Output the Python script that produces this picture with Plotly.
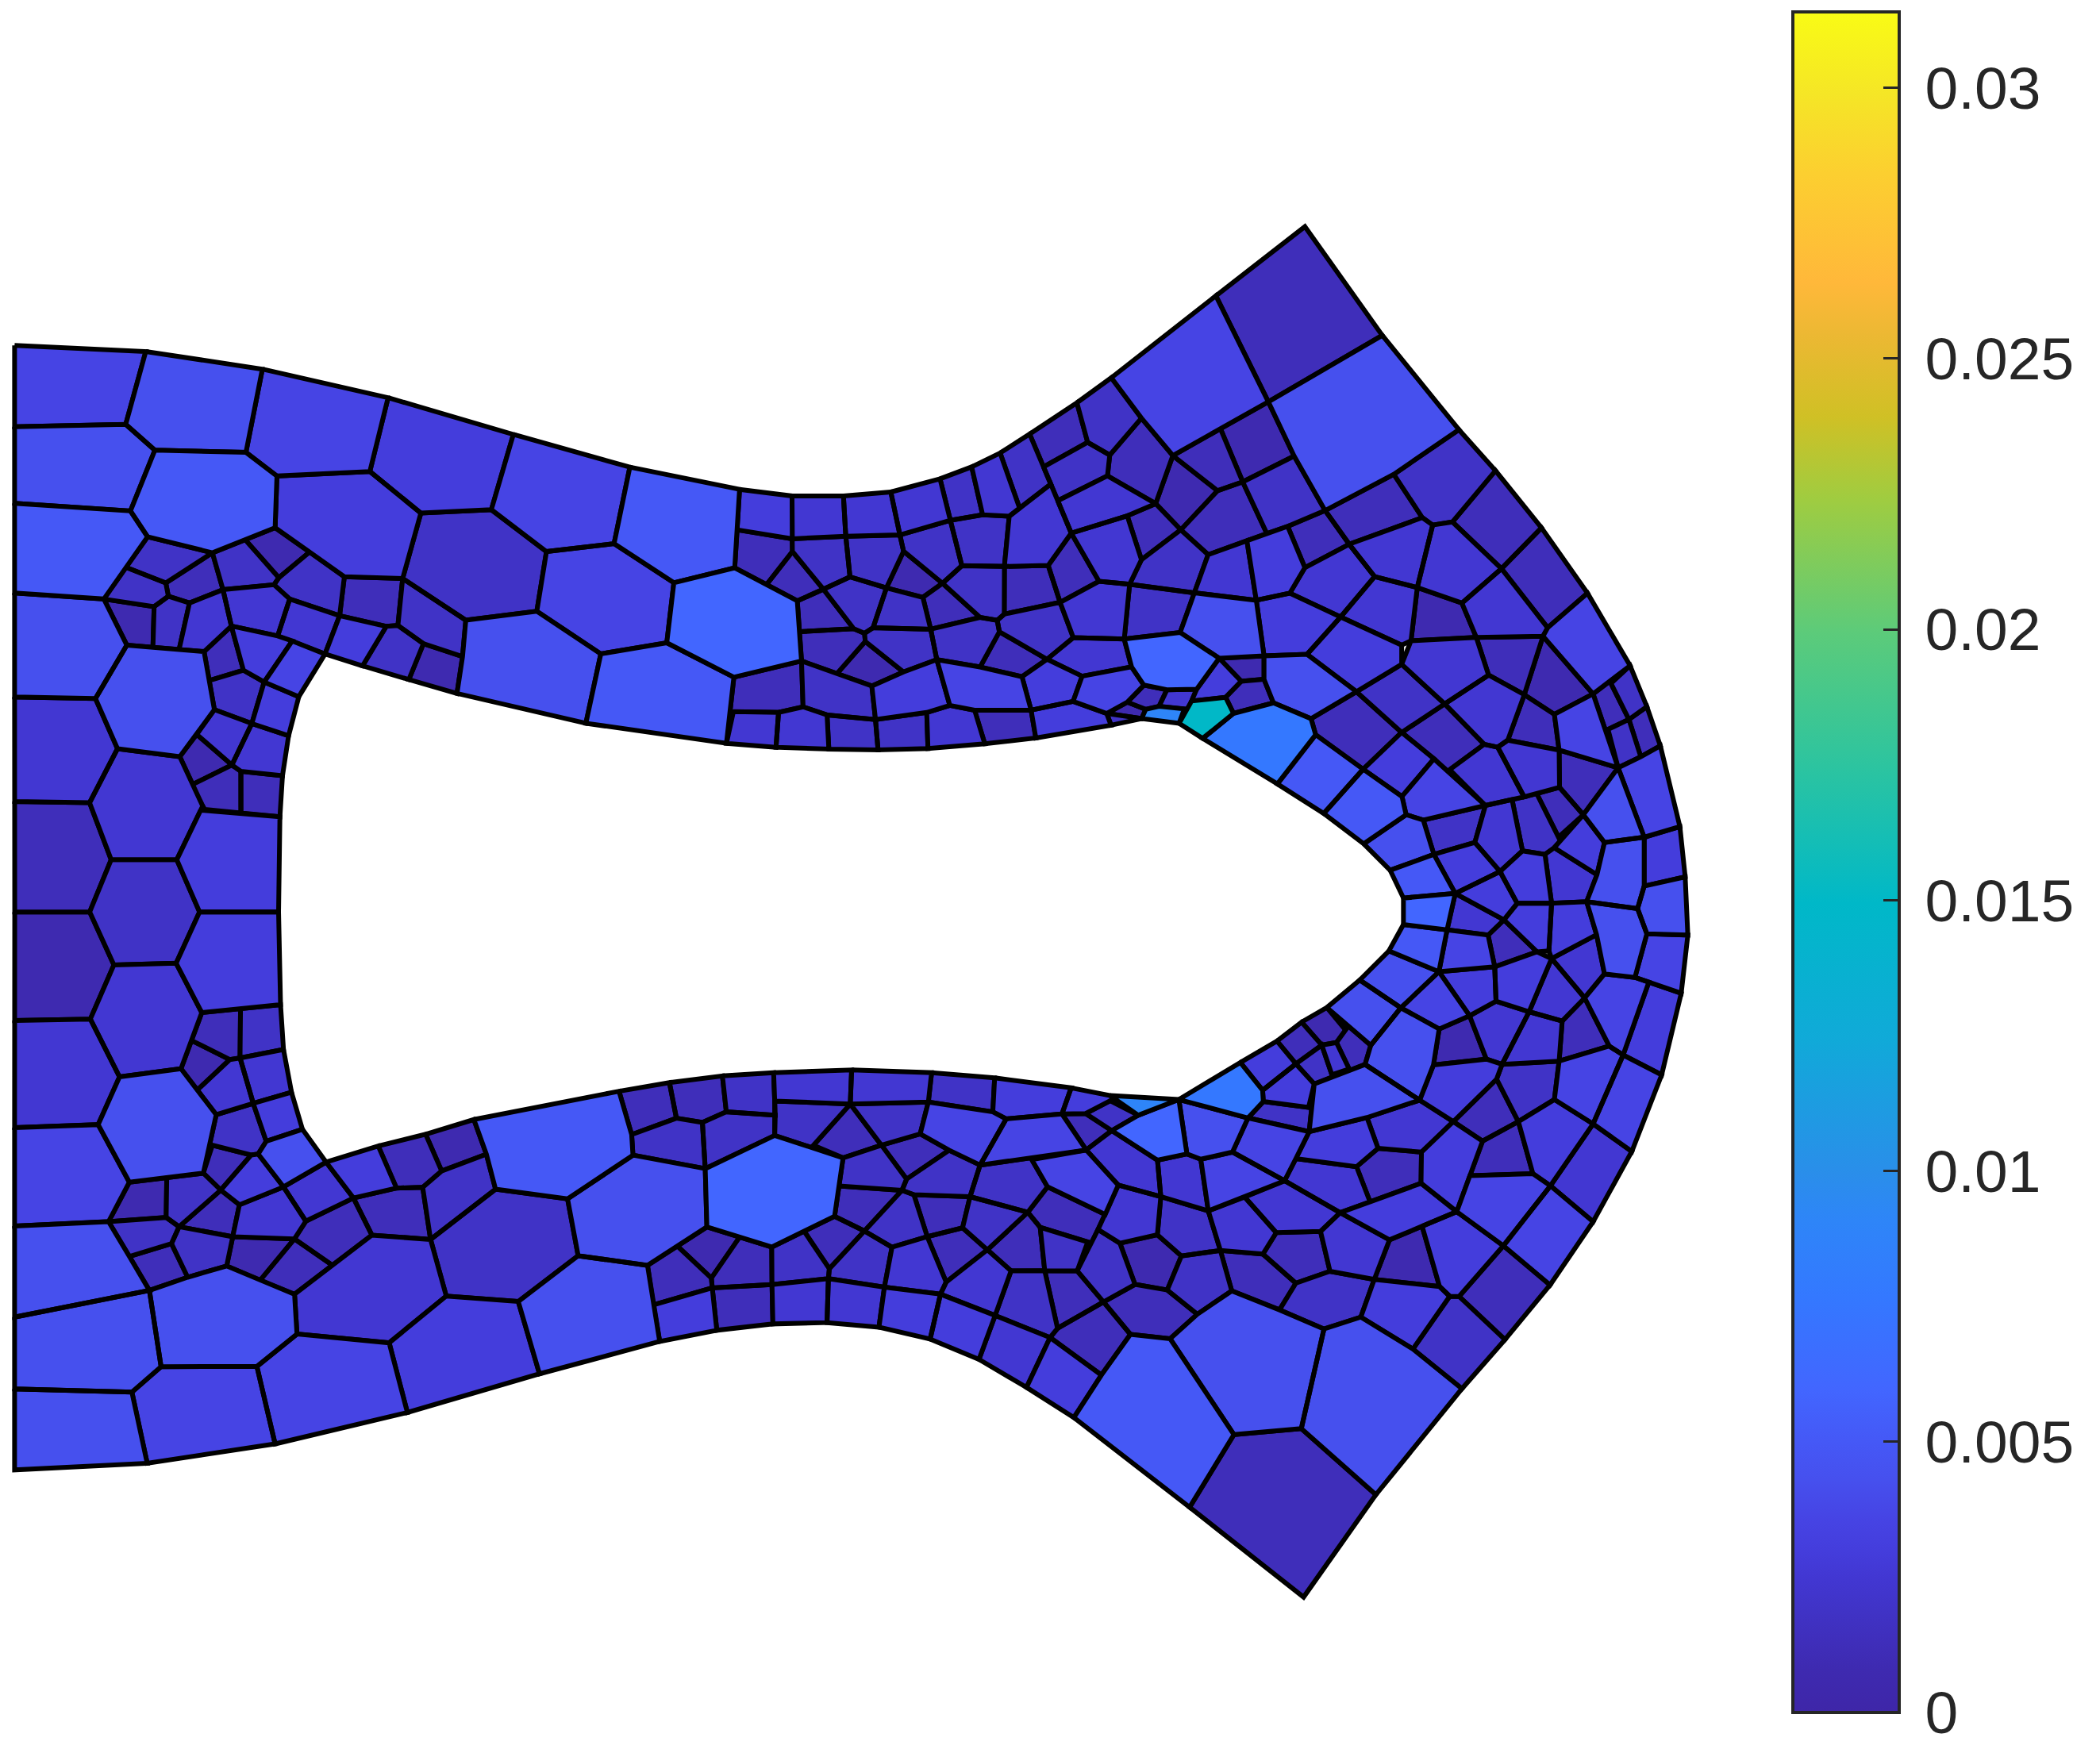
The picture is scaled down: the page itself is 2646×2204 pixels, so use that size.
import plotly.graph_objects as go
from plotly.colors import sample_colorscale

# cell value levels read against the colour bar
d, D, m, M, N, l, L, c, b, B, C, Y = (0.0008, 0.0013, 0.0019, 0.0025, 0.003, 0.0036,
                                     0.0043, 0.005, 0.006, 0.0077, 0.0091, 0.015)

value_max = 0.0314
tick_values = [0, 0.005, 0.01, 0.015, 0.02, 0.025, 0.03]
tick_labels = ["0", "0.005", "0.01", "0.015", "0.02", "0.025", "0.03"]

scale_stops = [0, .025, .041, .06, .079, .095, .114, .137, .159, .19, .244, .289, .317, .397,
               .476, .556, .635, .714, .762, .81, .841, .905, .952, 1]
scale_colors = ["#3e26a8", "#3e2ab0", "#3f2eba", "#4033c6", "#4237d2", "#443ddc", "#4644e4",
                "#4650ee", "#4558f6", "#4266ff", "#3478ff", "#2e85f8", "#2a8eea", "#10aad8",
                "#00b8c8", "#2cc4a0", "#5ccb7a", "#a0cc40", "#d0c025", "#ecb833", "#ffb83a",
                "#fccf30", "#f5e626", "#f9fb15"]

cells_overview = [
    (l, 383,324, 470,349, 459,406, 408,412, 366,380),
    (L, 348,463, 401,456, 448,489, 437,541, 341,518, 345,490),
    (l, 408,412, 459,406, 503,435, 498,480, 449,488, 401,457),
    (D, 143,587, 172,572, 180,576, 180,606, 153,604),
    (D, 180,576, 211,579, 208,610, 180,606),
    (M, 88,559, 135,566, 148,603, 132,642, 83,642, 67,600),
    (D, 11,599, 67,599, 83,642, 67,681, 11,681),
    (N, 148,605, 210,610, 208,681, 149,681, 132,642),
    (m, 83,642, 132,642, 149,681, 132,719, 85,720, 67,681),
    (d, 11,681, 67,681, 85,720, 68,761, 11,762),
    (N, 132,719, 149,681, 208,681, 210,750, 150,757),
    (c, 354,835, 462,815, 471,847, 472,862, 424,895, 370,888, 363,861),
    (m, 322,926, 370,888, 423,895, 432,938, 387,972, 333,968),
    (L, 387,972, 432,938, 482,944, 487,975, 492,1002, 403,1026),
]

cells_upper_left = [
    (l, 40,40, 400,60, 345,300, 40,308),
    (L, 400,60, 720,118, 675,392, 425,385, 345,300),
    (l, 720,118, 1065,212, 1015,455, 760,470, 675,392),
    (N, 1065,212, 1410,335, 1350,582, 1155,592, 1015,455),
    (L, 40,308, 345,300, 425,385, 358,585, 40,560),
    (c, 425,385, 675,392, 760,470, 755,640, 583,722, 405,670, 358,585),
    (N, 760,470, 1015,455, 1155,592, 1105,805, 945,800, 850,720, 755,640),
    (m, 1155,592, 1350,582, 1500,718, 1472,915, 1278,945, 1105,805),
    (c, 40,560, 358,585, 405,670, 345,770, 285,875, 40,855),
    (m, 405,670, 583,722, 455,822, 345,770),
    (m, 345,770, 455,822, 462,865, 423,900, 285,875),
    (D, 455,822, 583,725, 612,845, 520,888, 462,865),
    (m, 583,722, 672,678, 765,805, 752,828, 612,842),
    (d, 672,678, 755,640, 850,720, 765,805),
    (m, 850,720, 945,800, 932,930, 795,875, 752,828, 765,805),
    (D, 945,805, 1105,810, 1092,962, 1060,965, 932,930),
    (m, 1105,810, 1278,945, 1270,1065, 1162,1022, 1092,962),
    (d, 285,875, 423,900, 420,1030, 348,1025),
    (m, 423,900, 462,868, 520,888, 492,1035, 420,1030),
    (M, 520,888, 612,845, 635,960, 560,1048, 492,1035),
    (M, 612,845, 752,828, 795,875, 762,995, 635,960),
    (M, 795,875, 932,930, 892,1055, 802,1012, 762,995),
    (N, 932,930, 1060,965, 995,1095, 892,1055),
    (m, 1060,965, 1092,962, 1162,1022, 1122,1140, 995,1095),
    (d, 1162,1022, 1270,1065, 1255,1185, 1122,1140),
    (L, 40,855, 285,875, 348,1025, 262,1198, 40,1195),
    (L, 348,1030, 560,1048, 585,1240, 540,1320, 492,1392, 322,1368, 262,1205),
    (D, 560,1048, 635,968, 668,1108, 578,1140),
    (N, 635,968, 762,1000, 802,1012, 725,1148, 668,1108),
    (l, 802,1015, 892,1058, 820,1195, 730,1145),
    (m, 578,1145, 668,1112, 720,1150, 690,1280, 590,1238),
    (N, 725,1150, 820,1198, 792,1325, 692,1285),
    (M, 590,1240, 690,1285, 645,1420, 630,1420, 540,1320),
    (M, 692,1290, 792,1325, 775,1458, 660,1442, 645,1420),
    (d, 540,1322, 630,1422, 525,1485, 492,1392),
    (M, 40,1200, 262,1205, 322,1368, 245,1545, 40,1540),
]

cells_lower_left = [
    (M, 313,42, 480,35, 555,178, 495,348, 328,372, 247,200),
    (M, 40,205, 247,200, 328,372, 268,515, 40,525),
    (l, 40,525, 268,518, 355,690, 298,805, 40,820),
    (L, 328,375, 495,350, 590,487, 558,660, 355,685, 272,515),
    (D, 555,180, 660,168, 655,315, 630,320, 528,265),
    (m, 660,168, 768,158, 778,290, 660,315),
    (d, 528,265, 630,322, 542,412, 500,348),
    (M, 632,322, 660,318, 695,452, 595,485, 542,412),
    (M, 660,318, 778,292, 800,418, 695,448),
    (N, 695,455, 800,420, 830,530, 730,565),
    (m, 595,487, 695,455, 730,565, 710,602, 690,605, 583,575),
    (D, 583,580, 688,608, 605,712, 558,662),
    (L, 708,605, 732,568, 830,530, 895,625, 778,700),
    (N, 690,608, 708,605, 778,705, 658,755, 608,712),
    (d, 355,690, 458,678, 455,792, 298,805),
    (m, 458,678, 558,662, 605,712, 492,820, 458,795),
    (D, 605,712, 655,755, 635,850, 492,820),
    (M, 658,758, 778,705, 838,805, 808,855, 640,850),
    (M, 778,700, 895,630, 970,735, 840,805),
    (N, 895,630, 1038,580, 1088,705, 970,735),
    (D, 1038,580, 1168,545, 1212,655, 1160,703, 1088,705),
    (d, 1168,545, 1300,505, 1335,603, 1212,655),
    (m, 1160,703, 1212,655, 1335,610, 1360,710, 1183,858),
    (D, 970,735, 1088,708, 1160,705, 1180,858, 1022,845),
    (D, 840,805, 970,738, 1020,848, 912,935, 808,858),
    (d, 640,855, 808,858, 712,980, 622,938),
    (D, 808,862, 912,938, 808,1022, 718,985),
    (m, 298,808, 455,795, 490,822, 470,870, 355,908),
    (m, 492,825, 640,852, 622,938, 515,972, 472,872),
    (D, 355,912, 470,875, 515,972, 410,1010),
    (L, 40,820, 298,808, 355,912, 410,1010, 40,1090),
    (L, 410,1015, 515,975, 622,942, 712,982, 805,1025, 815,1142, 705,1238, 442,1240),
    (L, 40,1095, 410,1015, 442,1240, 362,1315, 40,1305),
    (L, 40,1310, 362,1318, 403,1530, 40,1550),
    (l, 362,1318, 442,1242, 705,1242, 755,1472, 405,1530),
    (l, 705,1240, 815,1145, 1068,1170, 1118,1378, 755,1472),
    (M, 812,1025, 912,938, 1020,848, 1180,862, 1225,1028, 1068,1168, 815,1142),
    (N, 1068,1170, 1225,1030, 1422,1045, 1480,1262, 1118,1378),
]

cells_upper_middle = [
    (c, 205,145, 505,225, 490,525, 325,582, 157,435),
    (b, 325,585, 490,530, 660,650, 670,875, 490,935, 305,808),
    (c, 125,850, 305,812, 488,940, 468,1190, 85,1110),
    (N, 505,235, 648,255, 648,415, 495,380),
    (M, 650,255, 790,255, 795,405, 650,412),
    (M, 790,255, 920,240, 945,400, 797,405),
    (M, 920,240, 1055,190, 1082,345, 945,402),
    (m, 1055,190, 1142,145, 1172,325, 1085,345),
    (M, 1142,145, 1220,95, 1270,295, 1245,330, 1172,325),
    (m, 1220,90, 1295,30, 1355,210, 1270,295),
    (D, 495,385, 650,420, 650,465, 580,585, 495,525),
    (D, 650,465, 735,605, 665,650, 580,590),
    (m, 650,420, 797,410, 808,560, 735,605, 650,465),
    (m, 797,410, 945,405, 955,465, 908,600, 808,558),
    (d, 955,465, 1062,585, 1008,635, 908,600),
    (m, 945,402, 1082,350, 1115,518, 1062,580, 955,462),
    (m, 1085,348, 1172,328, 1245,335, 1232,520, 1115,518),
    (M, 1245,330, 1355,215, 1415,395, 1352,515, 1235,520),
    (D, 1230,525, 1352,520, 1385,655, 1232,700),
    (D, 1415,395, 1490,575, 1385,655, 1352,518),
    (m, 735,610, 808,565, 908,605, 872,750, 848,770, 820,755),
    (m, 908,605, 1008,640, 1028,755, 872,755),
    (D, 665,655, 735,610, 815,755, 675,765),
    (D, 1008,640, 1062,590, 1165,712, 1030,755),
    (m, 1062,585, 1115,520, 1230,520, 1230,700, 1212,720, 1165,712),
    (D, 678,770, 820,760, 848,778, 850,805, 772,925, 680,875),
    (d, 850,805, 955,918, 868,970, 772,925),
    (m, 848,775, 870,755, 1030,765, 1045,870, 955,918, 850,805),
    (m, 1030,760, 1165,718, 1212,735, 1218,770, 1165,900, 1045,870),
    (D, 1218,770, 1345,875, 1280,935, 1165,900),
    (m, 1212,720, 1232,705, 1385,660, 1420,790, 1350,870, 1218,765),
    (D, 490,945, 670,885, 678,1050, 612,1070, 488,1068),
    (m, 680,880, 772,930, 868,975, 878,1095, 745,1078, 680,1052),
    (N, 868,975, 955,925, 1045,875, 1082,1045, 1020,1070, 878,1095),
    (l, 1050,880, 1165,905, 1280,940, 1305,1060, 1150,1062, 1082,1045),
    (N, 1280,940, 1350,875, 1445,935, 1420,1030, 1305,1062),
    (M, 488,1075, 612,1075, 605,1205, 470,1190),
    (M, 612,1075, 680,1055, 745,1085, 750,1212, 605,1205),
    (m, 745,1085, 878,1105, 885,1215, 750,1212),
    (m, 878,1105, 1018,1075, 1022,1210, 885,1215),
    (M, 1018,1075, 1082,1050, 1150,1065, 1178,1192, 1022,1210),
    (D, 1150,1068, 1305,1068, 1318,1170, 1178,1192),
    (N, 1305,1068, 1420,1035, 1510,1075, 1520,1122, 1318,1170),
]

cells_upper_right = [
    (D, 0,565, 105,490, 130,592, 28,655),
    (m, 105,490, 185,425, 255,530, 182,625, 130,592),
    (l, 185,425, 428,212, 550,485, 328,625, 255,530),
    (D, 428,212, 635,32, 815,315, 550,485),
    (L, 550,490, 815,315, 993,560, 840,675, 682,768, 610,628),
    (D, 255,530, 328,628, 288,750, 178,680, 182,625),
    (m, 28,658, 130,595, 180,628, 175,680, 60,745),
    (D, 328,628, 440,560, 490,695, 432,718),
    (d, 440,560, 550,490, 610,628, 492,695),
    (M, 60,745, 175,680, 288,752, 222,782, 92,828),
    (d, 288,752, 328,628, 432,718, 348,820),
    (D, 222,785, 288,755, 345,820, 255,898),
    (M, 92,830, 222,785, 255,898, 225,955, 157,955),
    (m, 255,898, 345,822, 410,885, 378,982, 230,968, 225,955),
    (D, 348,820, 432,720, 490,698, 545,825, 410,885),
    (m, 490,695, 610,630, 682,768, 595,810, 545,825),
    (D, 682,770, 840,678, 908,788, 738,855),
    (D, 595,812, 682,775, 738,858, 635,918),
    (M, 410,885, 500,848, 522,1002, 378,985),
    (N, 500,848, 595,812, 635,918, 600,985, 522,1002),
    (M, 738,858, 908,790, 932,808, 895,970, 797,942),
    (M, 635,920, 738,860, 797,942, 718,1045, 600,985),
    (m, 845,675, 993,560, 1078,665, 978,800, 932,808, 908,788),
    (D, 978,800, 1078,668, 1185,815, 1092,920),
    (M, 932,808, 978,800, 1092,920, 1000,1010, 895,970),
    (D, 1092,920, 1185,815, 1292,985, 1200,1075),
    (M, 1000,1010, 1092,925, 1198,1075, 1188,1095, 1035,1100),
    (l, 1200,1075, 1292,985, 1390,1172, 1305,1245, 1188,1098),
    (d, 880,1108, 900,970, 1000,1012, 1032,1100),
    (M, 718,1045, 797,942, 895,972, 880,1108, 860,1118),
    (N, 600,985, 718,1048, 640,1142, 540,1145, 522,1005),
    (m, 230,970, 378,985, 345,1085, 215,1102),
    (L, 378,985, 522,1005, 540,1145, 435,1152, 345,1085),
    (M, 65,1010, 157,955, 225,955, 230,968, 215,1102, 97,1100),
    (M, 97,1102, 215,1105, 232,1175, 117,1198, 37,1155),
    (b, 215,1108, 345,1092, 435,1152, 385,1232, 315,1232, 260,1222, 232,1175),
    (l, 117,1205, 232,1180, 260,1222, 222,1265, 175,1295, 97,1265),
    (D, 222,1268, 262,1228, 310,1238, 295,1278, 265,1283),
    (M, 318,1238, 380,1240, 355,1280, 298,1275),
    (d, 175,1300, 222,1272, 265,1288, 250,1305),
    (m, 175,1300, 250,1310, 260,1318, 188,1328),
    (C, 265,1290, 295,1285, 355,1282, 340,1322, 262,1318, 255,1305),
    (Y, 372,1272, 450,1262, 465,1298, 395,1360, 345,1325),
    (N, 385,1232, 435,1155, 485,1212, 450,1250, 378,1262),
    (d, 438,1158, 535,1152, 540,1205, 488,1212),
    (D, 488,1218, 540,1212, 562,1268, 472,1295, 452,1255),
    (L, 545,1150, 640,1145, 755,1240, 650,1310, 562,1268, 540,1210),
    (B, 470,1300, 562,1275, 648,1312, 660,1352, 570,1480, 400,1365),
    (c, 660,1355, 770,1442, 678,1558, 572,1482),
    (D, 650,1312, 755,1245, 860,1345, 770,1440, 660,1352),
    (N, 640,1145, 718,1050, 860,1122, 860,1170, 755,1240),
    (m, 755,1240, 860,1170, 960,1272, 860,1345),
    (M, 860,1170, 885,1110, 1032,1100, 1062,1198, 960,1272),
    (D, 1035,1100, 1188,1095, 1145,1248, 1062,1198),
    (d, 1190,1100, 1305,1245, 1215,1300, 1145,1248),
    (M, 1062,1198, 1145,1250, 1108,1365, 1085,1385, 1052,1375, 960,1272),
    (D, 960,1275, 1052,1378, 970,1445, 935,1412, 860,1348),
    (N, 860,1350, 935,1415, 860,1515, 770,1445),
    (D, 1145,1250, 1215,1300, 1225,1395, 1108,1365),
    (D, 1305,1248, 1345,1220, 1388,1310, 1340,1338),
    (m, 1350,1218, 1392,1175, 1430,1275, 1390,1308),
    (m, 1340,1342, 1385,1320, 1415,1410, 1370,1430),
    (D, 1390,1315, 1430,1285, 1462,1378, 1418,1408),
    (l, 1215,1300, 1305,1250, 1365,1435, 1355,1442, 1225,1395),
]

cells_right = [
    (c, 205,210, 350,310, 365,380, 205,490, 55,375),
    (l, 350,310, 470,175, 665,345, 430,400, 365,380),
    (M, 530,205, 660,118, 710,125, 810,305, 665,345),
    (M, 710,125, 745,105, 945,130, 945,275, 810,305),
    (D, 945,135, 1165,205, 1035,380, 945,275),
    (l, 1175,205, 1250,165, 1325,125, 1400,425, 1265,465),
    (L, 1150,210, 1175,205, 1265,465, 1115,485, 1035,380),
    (N, 1265,465, 1400,425, 1420,615, 1265,650),
    (L, 1115,485, 1265,465, 1265,650, 1240,735, 1050,705, 1090,610),
    (L, 1265,650, 1420,615, 1430,835, 1275,830, 1240,735),
    (L, 1050,710, 1240,735, 1275,830, 1230,995, 1115,980, 1085,830),
    (l, 1275,830, 1430,835, 1405,1055, 1230,995),
    (l, 1115,980, 1230,995, 1280,1020, 1185,1285, 1135,1255, 1040,1075),
    (N, 1280,1020, 1405,1055, 1330,1360, 1185,1285),
    (m, 430,400, 665,345, 625,485, 470,530),
    (M, 665,345, 765,320, 805,515, 720,595, 625,485),
    (m, 765,320, 860,305, 935,470, 925,505, 890,530, 805,515),
    (D, 860,305, 945,280, 1035,380, 935,465),
    (L, 205,490, 365,380, 430,400, 470,530, 305,590),
    (N, 470,530, 625,485, 720,595, 550,665),
    (c, 305,590, 470,530, 550,670, 355,695),
    (N, 550,670, 720,595, 785,715, 735,775, 555,690),
    (N, 720,595, 805,520, 890,530, 915,715, 785,715),
    (M, 890,530, 925,505, 1085,605, 1045,710, 915,715),
    (N, 925,505, 1035,380, 1115,485, 1085,605),
    (N, 785,715, 915,715, 905,895, 860,895, 735,775),
    (N, 915,715, 1045,710, 1085,835, 915,925, 905,895),
    (b, 355,695, 550,680, 520,815, 355,795),
    (c, 355,795, 520,815, 490,970, 300,895),
    (M, 550,690, 735,775, 675,835, 520,815),
    (l, 520,815, 675,835, 700,955, 490,970),
    (D, 675,835, 735,785, 860,900, 700,955),
    (N, 700,955, 860,900, 915,920, 830,1125, 705,1085),
    (N, 490,970, 700,955, 705,1085, 605,1140, 485,980),
    (M, 915,925, 1085,835, 1115,985, 1040,1070),
    (M, 915,925, 1040,1070, 955,1160, 830,1125),
    (L, 300,895, 490,975, 345,1110, 190,1005),
    (L, 65,1108, 190,1005, 345,1110, 235,1250),
    (l, 345,1110, 490,975, 605,1140, 490,1190),
    (d, 490,1190, 605,1140, 670,1305, 470,1325),
    (M, 605,1140, 705,1085, 830,1125, 725,1320, 670,1305),
    (M, 830,1125, 955,1160, 945,1310, 725,1320),
    (D, 955,1160, 1040,1075, 1135,1255, 945,1310),
    (L, 235,1250, 345,1110, 490,1190, 470,1325, 415,1450, 215,1325),
    (D, 135,1195, 225,1255, 205,1320, 155,1340, 110,1245),
    (d, -30,1164, 66,1110, 135,1191, 99,1236, 54,1239),
    (D, -123,1236, -30,1164, 54,1239, 42,1257, -51,1320),
]

cells_lower_middle = [
    (D, 175,165, 310,135, 330,265, 210,325),
    (D, 315,130, 458,110, 468,240, 403,280, 335,265),
    (m, 458,105, 597,95, 600,250, 470,245),
    (M, 600,95, 810,85, 808,200, 603,200),
    (M, 815,85, 1032,95, 1022,200, 808,202),
    (m, 1032,95, 1205,115, 1200,240, 1028,205),
    (N, 1205,115, 1415,150, 1388,250, 1235,265, 1200,240),
    (N, 1415,155, 1515,180, 1525,210, 1455,245, 1388,245),
    (m, 210,335, 330,272, 403,285, 410,455, 215,405),
    (m, 403,285, 468,245, 600,262, 602,328, 410,450),
    (m, 605,205, 805,215, 705,365, 602,325),
    (m, 815,215, 1020,210, 1000,325, 895,365),
    (D, 808,235, 890,368, 790,412, 705,368),
    (l, 1022,210, 1200,250, 1235,270, 1165,440, 1080,380, 1002,325),
    (l, 1240,275, 1388,255, 1455,385, 1170,438),
    (D, 1395,255, 1455,255, 1515,320, 1455,380),
    (b, 415,465, 600,345, 785,420, 762,635, 592,748, 418,672),
    (L, 35,575, 212,412, 408,462, 410,678, 252,822, 60,785),
    (D, 258,830, 335,760, 425,875, 425,905, 270,968),
    (d, 340,755, 418,685, 500,720, 428,865),
    (D, 508,725, 590,760, 590,890, 435,900, 430,875),
    (m, 598,755, 680,700, 750,840, 750,870, 598,890),
    (D, 688,700, 765,645, 845,695, 752,830),
    (m, 792,420, 892,372, 960,495, 950,535, 785,520),
    (D, 900,372, 1000,330, 1080,390, 965,498),
    (m, 965,500, 1080,395, 1160,450, 1140,558, 985,550, 958,535),
    (D, 785,530, 945,545, 850,690, 770,635),
    (m, 950,545, 980,560, 1020,710, 925,750, 848,690),
    (D, 985,560, 1135,570, 1115,680, 1020,710),
    (m, 848,700, 920,755, 900,895, 752,865, 752,840),
    (M, 925,760, 1020,720, 1072,885, 1055,930, 905,905),
    (D, 1020,720, 1118,685, 1185,765, 1072,885),
    (m, 1118,680, 1135,570, 1295,605, 1295,640, 1185,765),
    (m, 1140,558, 1165,450, 1305,425, 1345,520, 1295,605),
    (l, 1305,425, 1455,395, 1535,520, 1505,625, 1350,525),
    (D, 1300,620, 1355,535, 1500,630, 1462,730, 1330,675),
    (D, 1185,760, 1295,645, 1325,680, 1340,835, 1250,838),
    (m, 1335,685, 1460,735, 1432,840, 1345,840),
    (M, 1072,890, 1185,770, 1250,845, 1205,1005, 1060,925),
    (m, 1250,850, 1340,850, 1375,1060, 1355,1092, 1205,1012),
    (D, 1345,850, 1432,850, 1500,955, 1380,1060),
    (N, 1055,935, 1205,1015, 1162,1178, 1028,1105),
    (N, 905,915, 1055,940, 1028,1100, 890,1060),
    (M, 748,880, 900,910, 885,1055, 745,1040),
    (M, 598,900, 745,880, 745,1040, 598,1045),
    (D, 435,915, 590,905, 595,1045, 445,1068),
    (N, 270,975, 425,915, 440,1070, 288,1110),
    (M, 1210,1020, 1350,1100, 1290,1285, 1162,1180),
    (N, 1360,1100, 1500,1240, 1420,1400, 1295,1285),
]

cells_lower_right = [
    (N, 932,90, 1055,72, 1095,90, 1080,125, 980,238, 902,185),
    (m, 1095,90, 1225,80, 1215,180, 1130,238, 1082,125),
    (l, 1225,80, 1340,38, 1375,65, 1305,245, 1215,182),
    (l, 1375,65, 1465,118, 1395,320, 1305,245),
    (D, 980,238, 1080,130, 1130,238, 1048,290),
    (M, 902,185, 980,240, 905,320, 805,310, 778,230),
    (N, 908,320, 980,245, 1048,292, 988,480, 905,405),
    (D, 1048,295, 1130,245, 1165,378, 1025,385),
    (N, 1135,240, 1215,182, 1305,245, 1205,410, 1165,378),
    (l, 1165,382, 1205,412, 1095,570, 988,480, 1025,390),
    (l, 1205,415, 1305,510, 1205,675, 1098,570),
    (M, 1305,250, 1395,320, 1305,505, 1208,410),
    (D, 1098,575, 1205,678, 1100,820, 995,708),
    (N, 915,525, 988,485, 1095,572, 990,705, 970,705, 948,680),
    (D, 905,325, 905,405, 785,450, 755,362, 805,315),
    (M, 615,342, 755,362, 785,450, 715,480, 590,400),
    (N, 650,270, 775,230, 805,310, 755,358, 615,340),
    (M, 588,400, 718,482, 670,530, 570,535, 495,440),
    (N, 715,482, 905,405, 988,478, 830,552),
    (M, 720,490, 830,558, 795,660, 695,640, 672,535),
    (d, 835,558, 905,528, 948,680, 797,660),
    (D, 570,540, 672,535, 690,635, 615,668, 540,595),
    (M, 495,445, 565,535, 535,590, 440,582, 410,480),
    (l, 395,345, 465,325, 585,398, 495,440, 412,475),
    (M, 300,440, 410,480, 392,342, 362,330, 295,345),
    (M, 130,318, 190,265, 290,345, 300,437, 205,408),
    (b, 190,262, 250,225, 335,185, 358,325, 292,340),
    (L, 345,190, 498,232, 465,318, 392,335, 362,325),
    (l, 505,235, 640,268, 612,335, 588,395, 470,322),
    (B, 350,172, 485,85, 530,155, 535,190, 500,225),
    (C, 188,172, 338,178, 248,220),
    (N, 485,80, 570,25, 612,85, 540,155),
    (m, 540,190, 642,205, 640,262, 508,230),
    (N, 540,160, 612,90, 655,140, 645,200, 540,180),
    (m, 618,85, 670,45, 695,115, 660,135),
    (M, 672,40, 705,30, 735,100, 700,115),
    (L, 655,145, 775,90, 902,185, 785,228, 650,268),
    (m, 125,218, 185,190, 245,225, 188,262),
    (L, 880,845, 1000,955, 800,1235, 630,1060, 680,795, 765,765),
    (L, 325,820, 385,757, 465,695, 575,745, 678,795, 625,1058, 470,1075),
    (c, 230,812, 320,822, 470,1075, 367,1268, 100,1030, 162,918),
    (D, 470,1078, 625,1062, 800,1238, 632,1510, 367,1272),
    (m, 578,742, 615,675, 695,645, 795,662, 765,760, 680,792),
    (N, 798,665, 948,682, 970,705, 888,848, 765,762),
    (m, 975,710, 995,708, 1100,825, 1000,952, 890,850),
    (D, 465,692, 440,590, 537,597, 612,672, 575,742),
    (m, 385,752, 315,690, 348,600, 437,585, 465,690),
    (D, 240,675, 315,690, 385,755, 320,818, 230,805, 168,722),
    (d, 205,565, 292,545, 348,600, 315,690, 240,675),
    (m, 300,445, 410,480, 437,580, 348,597, 292,542),
    (M, 205,412, 300,440, 292,540, 205,562, 155,528),
    (m, 155,530, 205,568, 240,675, 168,720, 105,638),
    (D, 60,795, 168,728, 228,808, 160,915, 48,815),
]

# where each patch sits on the canvas and how finely it was read
patches = [
    (cells_overview, 0, 0, 0.5926, 0.5926),
    (cells_upper_left, 0, 420, 2.178, 2.613),
    (cells_lower_left, 0, 1200, 2.178, 2.376),
    (cells_upper_middle, 700, 540, 2.178, 3),
    (cells_upper_right, 1300, 270, 1.845, 2.063),
    (cells_right, 1650, 900, 3, 3),
    (cells_lower_middle, 700, 1320, 2.178, 3),
    (cells_lower_right, 1300, 1300, 1.845, 2.119),
]
weld_tol = 7

colorscale = [[s, col] for s, col in zip(scale_stops, scale_colors)]

values, polys = [], []
for cells, x0, y0, sx, sy in patches:
    for cell in cells:
        values.append(cell[0])
        polys.append([[x0 + px / sx, y0 + py / sy] for px, py in zip(cell[1::2], cell[2::2])])

# the readings of a shared node differ a little from cell to cell: merge them
nodes = [pt for poly in polys for pt in poly]
parent = list(range(len(nodes)))
def find(i):
    while parent[i] != i:
        parent[i] = parent[parent[i]]
        i = parent[i]
    return i
for i in range(len(nodes)):
    for j in range(i + 1, len(nodes)):
        if abs(nodes[i][0] - nodes[j][0]) < weld_tol and abs(nodes[i][1] - nodes[j][1]) < weld_tol:
            parent[find(i)] = find(j)
groups = {}
for i in range(len(nodes)):
    groups.setdefault(find(i), []).append(nodes[i])
for group in groups.values():
    mx = sum(p[0] for p in group) / len(group)
    my = sum(p[1] for p in group) / len(group)
    for p in group:
        p[0], p[1] = mx, my

# a node lying on a neighbour's edge goes onto that edge
for k, poly in enumerate(polys):
    for p in poly:
        best = weld_tol
        target = None
        for n, other in enumerate(polys):
            if n == k or p in other:
                continue
            for a, e in zip(other, other[1:] + other[:1]):
                ex, ey = e[0] - a[0], e[1] - a[1]
                t = ((p[0] - a[0]) * ex + (p[1] - a[1]) * ey) / (ex * ex + ey * ey + 1e-9)
                if 0.05 < t < 0.95:
                    qx, qy = a[0] + t * ex, a[1] + t * ey
                    dist = ((p[0] - qx) ** 2 + (p[1] - qy) ** 2) ** 0.5
                    if dist < best:
                        best, target = dist, (qx, qy)
        if target:
            p[0], p[1] = target

fig = go.Figure()

# one filled trace per value level
by_value = {}
for value, poly in zip(values, polys):
    xs, ys = by_value.setdefault(value, ([], []))
    xs.extend([p[0] for p in poly] + [poly[0][0], None])
    ys.extend([p[1] for p in poly] + [poly[0][1], None])
for value, (xs, ys) in sorted(by_value.items()):
    fill = sample_colorscale(colorscale, value / value_max)[0]
    fig.add_trace(go.Scatter(x=xs, y=ys, mode="lines", fill="toself", fillcolor=fill,
                             line=dict(color="black", width=6), hoverinfo="skip", showlegend=False))

# colour bar: same geometry twice, the first carries the labels pushed clear of the
# bar by invisible outside ticks, the second the inward tick marks
bar_geometry = dict(x=2259 / 2646, xanchor="left", xpad=0, ypad=0,
                    y=46 / 2204, yanchor="bottom", len=2143, lenmode="pixels",
                    thickness=134, thicknessmode="pixels",
                    outlinecolor="#262626", outlinewidth=4,
                    tickvals=tick_values, ticktext=tick_labels)
bar_labels = dict(ticks="outside", ticklen=16, tickwidth=1, tickcolor="rgba(0,0,0,0)",
                  tickfont=dict(family="Liberation Sans", size=75, color="#262626"))
bar_marks = dict(ticks="inside", ticklen=22, tickwidth=3, tickcolor="#262626", showticklabels=False)
for bar_style in (bar_labels, bar_marks):
    fig.add_trace(go.Scatter(
        x=[None], y=[None], mode="markers", showlegend=False,
        marker=dict(color=[0], cmin=0, cmax=value_max, colorscale=colorscale, showscale=True,
                    colorbar=dict(**bar_geometry, **bar_style))))

fig.update_layout(width=2646, height=2204, margin=dict(l=0, r=0, t=0, b=0),
                  paper_bgcolor="white", plot_bgcolor="white",
                  xaxis=dict(visible=False, range=[0, 2646], fixedrange=True),
                  yaxis=dict(visible=False, range=[2204, 0], fixedrange=True))

fig.write_html("out.html", config=dict(displayModeBar=False), post_script="document.body.style.margin='0';")
